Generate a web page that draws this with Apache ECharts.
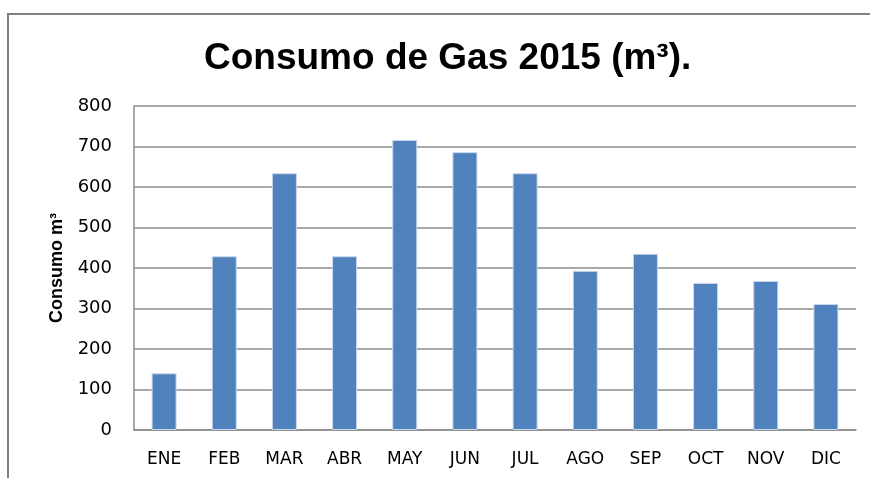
<!DOCTYPE html>
<html>
<head>
<meta charset="utf-8">
<style>
  html, body { margin: 0; padding: 0; background: #fff; }
  #chart { width: 870px; height: 478px; }
</style>
<script src="https://cdn.jsdelivr.net/npm/echarts@6/dist/echarts.min.js"></script>
</head>
<body>
<div id="chart"></div>
<script>
// months (spanish abbreviations)
var months = ['ENE', 'FEB', 'MAR', 'ABR', 'MAY', 'JUN', 'JUL', 'AGO', 'SEP', 'OCT', 'NOV', 'DIC'];
// gas consumption in m3
var consumo = [140, 429, 634, 429, 716, 686, 634, 393, 435, 363, 368, 311];
var yTicks = [0, 100, 200, 300, 400, 500, 600, 700, 800];

var chart = echarts.init(document.getElementById('chart'), null, { renderer: 'canvas' });

chart.setOption({
  animation: false,
  backgroundColor: '#fff',
  title: {
    text: 'Consumo de Gas 2015 (m³).',
    left: 199,
    top: 35,
    textStyle: {
      fontFamily: 'Liberation Sans',
      fontWeight: 'bold',
      fontSize: 37,
      color: '#000'
    }
  },
  graphic: [{
    // frame of the chart area (only left + top edges show)
    type: 'polyline',
    shape: { points: [[8, 478], [8, 14], [870, 14]] },
    style: { stroke: '#808080', lineWidth: 2, fill: null },
    silent: true
  }],
  grid: {
    left: 134,
    right: 14,
    top: 106,
    bottom: 48
  },
  xAxis: {
    type: 'category',
    data: months,
    axisLine: { lineStyle: { color: '#8c8c8c', width: 1.5 } },
    axisTick: { show: false },
    axisLabel: {
      fontFamily: 'DejaVu Sans',
      fontSize: 17,
      color: '#000',
      margin: 21
    }
  },
  yAxis: {
    type: 'value',
    min: yTicks[0],
    max: yTicks[yTicks.length - 1],
    interval: 100,
    name: 'Consumo m³',
    nameLocation: 'middle',
    nameGap: 68,
    nameTextStyle: {
      fontFamily: 'Liberation Sans',
      fontWeight: 'bold',
      fontSize: 18,
      color: '#000'
    },
    axisLine: { show: true, lineStyle: { color: '#8c8c8c', width: 1.5 } },
    axisTick: { show: false },
    axisLabel: {
      fontFamily: 'DejaVu Sans',
      fontSize: 18,
      color: '#000',
      margin: 22
    },
    splitLine: { lineStyle: { color: '#8c8c8c', width: 1.5 } }
  },
  series: [{
    type: 'bar',
    data: consumo,
    barWidth: 25,
    itemStyle: {
      color: '#4f81bd',
      borderColor: '#c9d7ec',
      borderWidth: 1
    }
  }]
});
</script>
</body>
</html>
